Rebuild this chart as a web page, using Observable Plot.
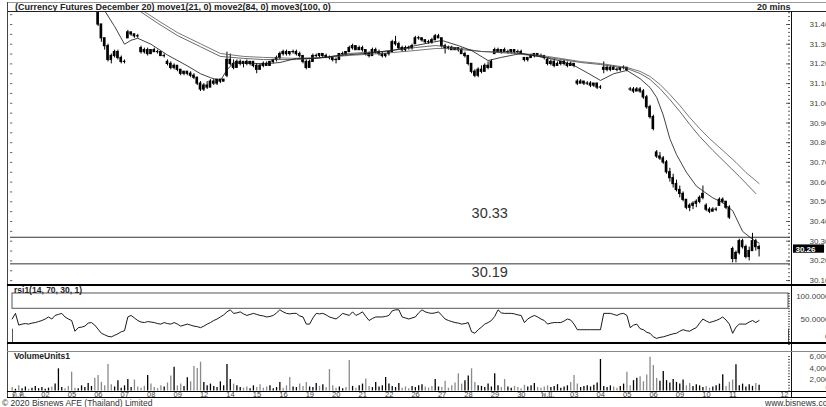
<!DOCTYPE html>
<html><head><meta charset="utf-8">
<script src="https://cdn.jsdelivr.net/npm/d3@7"></script>
<script src="https://cdn.jsdelivr.net/npm/@observablehq/plot@0.6"></script>
<style>
body{margin:0;background:#fff;}
#chart{position:relative;width:826px;height:407px;overflow:hidden;font-family:'Liberation Sans',Arial,'DejaVu Sans',sans-serif;background:#fff;}
.ln{position:absolute;background:#000;}
.t{position:absolute;white-space:nowrap;line-height:1;color:#222;}
</style></head><body><div id="chart"></div>
<script>
// ---------- DATA (20-minute bars, 8 bars per trading day) ----------
const barsPerDay = 8;
const xMax = 236;
const dayLabels = ["ต.ค.","02","05","06","07","08","09","12","14","15","16","19","20","21","22","26","27","28","29","30","พ.ย.","03","04","05","06","09","10","11"];
const lastDayLabel = "12";
const firstPriceBar = 26;
const opens = [
31.46,31.40,31.33,31.29,31.22,31.24,31.26,31.23,31.21,31.33,
31.36,31.35,31.34,31.28,31.26,31.27,31.25,31.27,31.26,31.26,
31.24,31.21,31.20,31.18,31.19,31.17,31.15,31.16,31.15,31.14,
31.13,31.10,31.07,31.09,31.08,31.11,31.10,31.12,31.11,31.14,
31.22,31.20,31.18,31.21,31.20,31.21,31.20,31.21,31.19,31.17,
31.19,31.20,31.19,31.21,31.22,31.23,31.25,31.26,31.25,31.26,
31.26,31.25,31.24,31.21,31.18,31.21,31.24,31.24,31.25,31.24,
31.23,31.23,31.22,31.22,31.25,31.25,31.26,31.28,31.29,31.27,
31.28,31.27,31.25,31.24,31.27,31.26,31.25,31.24,31.25,31.26,
31.31,31.30,31.28,31.27,31.28,31.28,31.30,31.33,31.33,31.32,
31.31,31.31,31.32,31.34,31.33,31.29,31.28,31.28,31.27,31.28,
31.27,31.25,31.24,31.20,31.16,31.14,31.17,31.16,31.19,31.18,
31.25,31.27,31.26,31.27,31.26,31.26,31.27,31.26,31.26,31.23,
31.22,31.23,31.24,31.25,31.24,31.24,31.22,31.20,31.21,31.19,
31.20,31.21,31.20,31.19,31.20,31.11,31.10,31.11,31.10,31.10,
31.09,31.10,31.08,31.17,31.18,31.17,31.18,31.17,31.17,31.18,
31.18,31.07,31.07,31.06,31.07,31.06,31.03,30.98,30.93,30.75,
30.73,30.72,30.70,30.65,30.62,30.59,30.56,30.54,30.51,30.47,
30.48,30.49,30.50,30.52,30.48,30.46,30.45,30.46,30.48,30.51,
30.50,30.47,30.26,30.21,30.24,30.30,30.27,30.22,30.25,30.30,
30.27];
const highs = [
31.47,31.40,31.33,31.30,31.25,31.27,31.27,31.24,31.22,31.37,
31.36,31.35,31.35,31.29,31.28,31.28,31.27,31.28,31.27,31.26,
31.25,31.22,31.21,31.20,31.19,31.17,31.16,31.16,31.16,31.15,
31.13,31.11,31.10,31.11,31.12,31.12,31.12,31.12,31.12,31.26,
31.25,31.22,31.22,31.22,31.21,31.22,31.21,31.21,31.20,31.20,
31.21,31.21,31.21,31.22,31.24,31.26,31.27,31.27,31.26,31.27,
31.27,31.26,31.24,31.22,31.22,31.25,31.25,31.25,31.25,31.25,
31.24,31.23,31.23,31.25,31.26,31.26,31.29,31.30,31.29,31.29,
31.29,31.27,31.26,31.28,31.28,31.27,31.26,31.25,31.26,31.32,
31.34,31.31,31.29,31.29,31.29,31.30,31.34,31.34,31.33,31.32,
31.32,31.33,31.35,31.35,31.33,31.30,31.29,31.29,31.28,31.28,
31.28,31.26,31.24,31.20,31.17,31.18,31.19,31.20,31.21,31.22,
31.28,31.28,31.27,31.28,31.27,31.27,31.27,31.27,31.27,31.23,
31.23,31.25,31.25,31.25,31.25,31.24,31.23,31.22,31.22,31.21,
31.21,31.22,31.21,31.21,31.20,31.12,31.12,31.11,31.11,31.11,
31.10,31.10,31.09,31.21,31.19,31.19,31.19,31.18,31.18,31.19,
31.18,31.08,31.08,31.08,31.08,31.07,31.04,30.99,30.94,30.76,
30.75,30.73,30.71,30.67,30.64,30.61,30.58,30.55,30.51,30.49,
30.50,30.51,30.53,30.58,30.49,30.47,30.47,30.47,30.52,30.52,
30.50,30.48,30.27,30.25,30.31,30.31,30.28,30.27,30.34,30.31,
30.28];
const lows = [
31.39,31.31,31.27,31.21,31.20,31.23,31.22,31.20,31.20,31.33,
31.34,31.33,31.33,31.25,31.25,31.24,31.25,31.26,31.25,31.24,
31.23,31.19,31.17,31.17,31.16,31.14,31.14,31.14,31.13,31.12,
31.09,31.06,31.06,31.07,31.08,31.09,31.09,31.10,31.11,31.13,
31.19,31.17,31.18,31.19,31.18,31.19,31.19,31.18,31.15,31.17,
31.18,31.19,31.19,31.20,31.21,31.22,31.24,31.24,31.24,31.25,
31.24,31.23,31.20,31.17,31.18,31.21,31.23,31.23,31.23,31.23,
31.22,31.21,31.20,31.22,31.24,31.24,31.26,31.27,31.27,31.27,
31.26,31.24,31.23,31.24,31.25,31.24,31.23,31.23,31.24,31.26,
31.29,31.27,31.26,31.26,31.27,31.27,31.30,31.32,31.31,31.30,
31.30,31.30,31.32,31.33,31.28,31.25,31.27,31.27,31.27,31.26,
31.25,31.23,31.19,31.15,31.13,31.13,31.15,31.16,31.17,31.18,
31.25,31.26,31.25,31.26,31.25,31.25,31.25,31.25,31.25,31.21,
31.21,31.23,31.23,31.24,31.23,31.22,31.19,31.19,31.18,31.19,
31.19,31.19,31.18,31.19,31.18,31.09,31.10,31.09,31.09,31.08,
31.08,31.07,31.07,31.15,31.16,31.16,31.17,31.16,31.16,31.17,
31.16,31.06,31.05,31.06,31.05,31.02,30.97,30.92,30.86,30.72,
30.71,30.69,30.64,30.60,30.57,30.55,30.52,30.50,30.46,30.45,
30.46,30.47,30.49,30.51,30.45,30.44,30.45,30.45,30.48,30.49,
30.46,30.41,30.19,30.19,30.23,30.26,30.21,30.20,30.25,30.25,
30.22];
const closes = [
31.40,31.33,31.29,31.22,31.24,31.26,31.23,31.21,31.21,31.36,
31.35,31.34,31.34,31.26,31.27,31.25,31.27,31.26,31.26,31.24,
31.24,31.20,31.18,31.19,31.17,31.15,31.16,31.15,31.14,31.13,
31.10,31.07,31.09,31.08,31.11,31.10,31.12,31.11,31.12,31.22,
31.20,31.18,31.21,31.20,31.21,31.20,31.21,31.19,31.17,31.19,
31.20,31.19,31.21,31.22,31.23,31.25,31.26,31.25,31.26,31.26,
31.25,31.24,31.21,31.18,31.21,31.24,31.24,31.25,31.24,31.23,
31.23,31.22,31.22,31.25,31.25,31.26,31.28,31.29,31.27,31.28,
31.27,31.25,31.24,31.27,31.26,31.25,31.24,31.25,31.26,31.31,
31.30,31.28,31.27,31.28,31.28,31.29,31.33,31.33,31.32,31.31,
31.31,31.32,31.34,31.33,31.29,31.28,31.28,31.27,31.28,31.27,
31.25,31.24,31.20,31.16,31.14,31.17,31.16,31.19,31.18,31.21,
31.27,31.26,31.27,31.26,31.26,31.27,31.26,31.26,31.25,31.22,
31.23,31.24,31.25,31.24,31.24,31.23,31.20,31.21,31.19,31.20,
31.21,31.20,31.19,31.20,31.19,31.10,31.11,31.10,31.10,31.09,
31.10,31.08,31.08,31.18,31.17,31.18,31.17,31.17,31.18,31.18,
31.17,31.07,31.06,31.07,31.06,31.03,30.98,30.93,30.87,30.73,
30.72,30.70,30.65,30.62,30.59,30.56,30.54,30.51,30.47,30.48,
30.49,30.50,30.52,30.54,30.46,30.45,30.46,30.46,30.51,30.50,
30.47,30.42,30.21,30.24,30.30,30.27,30.22,30.25,30.30,30.27,
30.26];
// moving averages read at sample bars
const ma1Bars = [26,28,31,34,36,38,42,47,53,57,60,63,65,67,71,76,81,86,92,99,107,115,122,130,135,139,144,148,154,161,166,170,174,178,182,186,190,193,195,197,199,201,204,207,209,212,215,218,221,224,226];
const ma1 = [31.53,31.47,31.39,31.30,31.32,31.33,31.30,31.245,31.19,31.15,31.13,31.115,31.17,31.205,31.205,31.20,31.207,31.228,31.228,31.243,31.253,31.268,31.293,31.319,31.293,31.268,31.217,31.233,31.253,31.233,31.215,31.192,31.155,31.116,31.15,31.167,31.125,31.08,31.03,30.94,30.82,30.74,30.65,30.58,30.555,30.52,30.495,30.455,30.35,30.31,30.29];
const ma2Bars = [33,38,44,50,57,63,70,76,86,95,102,112,122,128,132,142,152,162,172,178,186,190,193,196,199,202,205,208,212,216,220,225];
const ma2 = [31.52,31.475,31.407,31.344,31.287,31.238,31.228,31.222,31.222,31.233,31.253,31.263,31.283,31.293,31.288,31.263,31.253,31.233,31.207,31.197,31.177,31.151,31.121,31.075,31.019,30.959,30.893,30.832,30.761,30.695,30.629,30.542];
const ma3Bars = [35,39,45,50,57,63,70,76,86,95,102,112,122,128,132,142,152,162,172,178,186,190,193,196,199,202,205,208,211,215,219,222,226];
const ma3 = [31.52,31.476,31.411,31.359,31.302,31.253,31.238,31.233,31.228,31.233,31.243,31.253,31.268,31.278,31.278,31.263,31.258,31.238,31.212,31.202,31.182,31.162,31.136,31.096,31.045,30.989,30.928,30.872,30.821,30.761,30.700,30.649,30.593];
const levels = [30.32, 30.185];
const levelLabels = ["30.33", "30.19"];
const lastPrice = 30.26;
const priceTicks = [31.40,31.30,31.20,31.10,31.00,30.90,30.80,30.70,30.60,30.50,30.40,30.30,30.20,30.10];
// RSI(14) per bar from the first bar
const rsi = [
50,61,38,40,41,40,42,43,45,47,
50,54,50,57,59,61,54,50,47,26,
33,34,36,42,43,38,30,22,19,16,
15,18,21,25,27,54,57,52,47,44,
43,45,44,43,41,40,43,41,40,43,
40,36,38,40,38,36,35,33,36,40,
43,47,50,54,58,64,68,61,62,64,
60,57,59,61,59,57,56,54,55,57,
62,68,64,61,60,61,61,56,54,40,
40,52,61,60,61,58,54,52,50,55,
61,59,57,64,57,60,64,55,47,51,
54,54,54,55,57,66,68,68,54,52,
50,52,54,62,68,64,62,61,62,64,
57,50,47,45,43,42,40,41,43,25,
22,29,34,40,43,47,55,68,62,61,
61,61,60,58,57,43,50,54,57,54,
50,47,40,42,43,43,43,46,50,48,
40,29,29,29,29,29,29,29,29,61,
61,61,59,57,60,61,57,33,38,40,
31,29,24,22,15,12,14,15,17,19,
21,22,26,29,27,26,30,33,42,50,
46,43,45,47,50,54,48,40,22,34,
40,40,40,44,47,43,47];
const rsiUpper = 70, rsiLower = 30;
const rsiTicks = [100, 50, 0];
// volume per bar
const volume = [
600,300,900,400,700,300,500,800,400,600,
300,500,700,1200,3860,600,400,800,3270,500,
400,900,600,1300,800,2200,2700,1500,900,4600,
1100,700,1800,500,900,2000,600,1900,700,500,
800,2700,1200,600,400,900,700,1400,2600,4140,
900,1200,800,2300,1600,4260,3900,5000,1500,900,
1200,800,600,1600,900,4600,2000,1200,900,600,
500,700,400,900,600,1100,500,700,900,400,
600,1500,500,900,2350,700,600,1200,800,1500,
700,600,1300,800,1100,600,3740,900,500,700,
400,600,5300,800,500,900,1200,2100,800,600,
1500,700,900,2350,1200,800,600,1300,500,700,
400,800,600,900,1100,700,500,800,2000,700,
600,1700,500,900,1400,3000,1200,1800,2600,3860,
1500,900,800,600,1200,700,3000,900,600,2000,
700,500,800,600,400,1000,700,900,1300,600,
500,700,900,600,800,1100,500,700,900,1500,
2700,1200,600,800,900,700,1000,1400,5480,800,
600,900,700,500,800,1200,3270,900,1800,2200,
2500,1600,2800,5880,4430,2200,1700,3400,1800,1400,
2000,1500,1200,1900,900,1300,800,1100,900,600,
800,500,700,900,1200,2820,800,1500,1900,4550,
900,1200,700,1100,800,1300,1000];
const volTicks = [6000, 4000, 2000];
const volZero = 0;

// ---------- RENDER ----------
const FONT = "'Liberation Sans', Arial, 'DejaVu Sans', sans-serif";
const W = 826;
const chart = document.getElementById("chart");
const X = {domain: [0, xMax], range: [10, 790], axis: null};
const common = {width: W, marginLeft: 10, marginRight: 36, style: {fontFamily: FONT, background: "transparent", overflow: "visible"}};
function place(svg, top) {
  svg.style.position = "absolute"; svg.style.left = "0px"; svg.style.top = top + "px";
  svg.style.maxWidth = "none"; chart.appendChild(svg);
}
const candles = opens.map((o, k) => ({bar: firstPriceBar + k, o, h: highs[k], l: lows[k], c: closes[k]}));
const series = (bars, vals) => bars.map((b, k) => ({b, v: vals[k]}));

const pricePlot = Plot.plot({
  ...common, height: 285, marginTop: 12, marginBottom: 2,
  x: X,
  y: {domain: [30.30, 31.20], range: [240.7, 63.4], axis: null},
  marks: [
    Plot.ruleY(levels, {x1: 0, x2: xMax, stroke: "#333", strokeWidth: 1}),
    Plot.ruleX(candles, {x: d => d.bar + 0.5, y1: "l", y2: "h", stroke: "#000", strokeWidth: 1, clip: true}),
    Plot.rect(candles, {x1: d => d.bar + 0.1, x2: d => d.bar + 0.9, y1: d => Math.min(d.o, d.c), y2: d => Math.max(d.o, d.c), fill: "#000", insetTop: -0.6, insetBottom: -0.6, clip: true}),
    Plot.line(series(ma3Bars, ma3), {x: d => d.b + 0.5, y: "v", stroke: "#555", strokeWidth: 0.8, clip: true}),
    Plot.line(series(ma2Bars, ma2), {x: d => d.b + 0.5, y: "v", stroke: "#444", strokeWidth: 0.8, clip: true}),
    Plot.line(series(ma1Bars, ma1), {x: d => d.b + 0.5, y: "v", stroke: "#111", strokeWidth: 0.8, clip: true}),
    Plot.text([levels[0]], {x: () => 145, y: d => d, text: () => levelLabels[0], dy: -24, fontSize: 14.5, fill: "#333"}),
    Plot.text([levels[1]], {x: () => 145, y: d => d, text: () => levelLabels[1], dy: 9, fontSize: 14.5, fill: "#333"}),
    Plot.ruleY(d3.ticks(30.09, 31.46, 70), {x1: xMax - 0.6, x2: xMax, stroke: "#333", strokeWidth: 0.8}),
    Plot.ruleY(priceTicks, {x1: xMax - 1.2, x2: xMax, stroke: "#333", strokeWidth: 0.8}),
    Plot.ruleY(d3.ticks(30.1, 31.45, 28), {x1: 0, x2: 0.7, stroke: "#444", strokeWidth: 0.8}),
    Plot.text(priceTicks, {y: d => d, text: d => d.toFixed(2), frameAnchor: "right", dx: 39, textAnchor: "end", fontSize: 8, fill: "#444"}),
    Plot.rect([lastPrice], {x1: () => xMax + 0.9, x2: () => xMax + 10.3, y1: d => d - 0.021, y2: d => d + 0.021, fill: "#000"}),
    Plot.text([lastPrice], {x: () => xMax + 0.9, y: d => d, text: d => d.toFixed(2), textAnchor: "start", dx: 2, fontSize: 8, fontWeight: "bold", fill: "#fff"})
  ]
});
place(pricePlot, 0);

const rsiPlot = Plot.plot({
  ...common, height: 58, marginTop: 8, marginBottom: 1,
  x: X,
  y: {domain: [0, 100], range: [59, 8], axis: null},
  marks: [
    Plot.rect([rsiUpper], {x1: () => 0, x2: () => xMax, y1: d => d, y2: () => 100, fill: "none", stroke: "#555", strokeWidth: 1, insetLeft: 2, insetRight: 2}),
    Plot.ruleX([0], {y1: 0, y2: rsiLower, stroke: "#555", dx: 2}),
    Plot.ruleX([xMax], {y1: 0, y2: rsiLower, stroke: "#555", dx: -2}),
    Plot.line(rsi, {x: (d, i) => i + 0.5, y: d => d, stroke: "#000", strokeWidth: 0.9, clip: true}),
    Plot.ruleY(d3.ticks(0, 100, 20), {x1: xMax - 0.6, x2: xMax, stroke: "#333", strokeWidth: 0.8}),
    Plot.text([rsiTicks[0]], {y: d => d, text: d => d.toFixed(4), frameAnchor: "right", dx: 39, textAnchor: "end", dy: 3, fontSize: 8, fill: "#444"}),
    Plot.text([rsiTicks[1]], {y: d => d, text: d => d.toFixed(4), frameAnchor: "right", dx: 39, textAnchor: "end", fontSize: 8, fill: "#444"}),
    Plot.text([rsiTicks[2]], {y: d => d, text: d => String(d), frameAnchor: "right", dx: 39, textAnchor: "end", dy: -8, fontSize: 8, fill: "#444"})
  ]
});
place(rsiPlot, 285);

const volPlot = Plot.plot({
  ...common, height: 64, marginTop: 8, marginBottom: 16.5,
  x: X,
  y: {domain: [0, 6000], range: [47.5, 13], axis: null},
  marks: [
    Plot.ruleX(volume, {x: (d, i) => i + 0.5, y1: 0, y2: d => d, stroke: (d, i) => (i > 0 && rsi[i] >= rsi[i - 1]) ? "#000" : "#8a8a8a", strokeWidth: 1.3}),
    Plot.ruleY(d3.ticks(0, 6000, 12), {x1: xMax - 0.6, x2: xMax, stroke: "#333", strokeWidth: 0.8}),
    Plot.text(volTicks, {y: d => d, text: d => d3.format(",")(d), frameAnchor: "right", dx: 39, textAnchor: "end", fontSize: 8, fill: "#444"}),
    Plot.text([volZero], {y: d => d, text: d => String(d), frameAnchor: "right", dx: 39, dy: -3, textAnchor: "end", fontSize: 7, fill: "#444"}),
    Plot.text(dayLabels, {x: (d, i) => i * barsPerDay, y: () => 0, text: d => d, dx: 8.5, dy: 3.6, fontSize: 7.5, fill: "#444"}),
    Plot.text([lastDayLabel], {x: () => xMax, y: () => 0, text: d => d, dx: -2, dy: 3.6, textAnchor: "end", fontSize: 7.5, fill: "#444"})
  ]
});
place(volPlot, 343);

// ---------- frame lines & titles ----------
function line(l, t, w, h, c) { const d = document.createElement("div"); d.className = "ln"; Object.assign(d.style, {left: l + "px", top: t + "px", width: w + "px", height: h + "px", background: c}); chart.appendChild(d); }
function text(s, l, t, size, weight, color) { const d = document.createElement("div"); d.className = "t"; d.textContent = s; Object.assign(d.style, {left: l + "px", top: t + "px", fontSize: size + "px", fontWeight: weight, color}); chart.appendChild(d); }
line(7, 1.5, 819, 1, "#999");
line(7, 11, 819, 1, "#222");
line(7, 1.5, 1, 396, "#444");
line(791, 11, 1, 386.5, "#111");
line(7, 284, 819, 2, "#000");
line(7, 341.5, 819, 2, "#000");
line(7, 350.5, 819, 1, "#888");
line(7, 390.5, 819, 1, "#000");
line(7, 397, 819, 1, "#000");
text("(Currency Futures December 20) move1(21, 0) move2(84, 0) move3(100, 0)", 15, 2.6, 9, "bold", "#222");
text("20 mins", 757, 2.6, 9, "bold", "#222");
text("rsi1(14, 70, 30, 1)", 14, 286.2, 8.5, "bold", "#222");
text("VolumeUnits1", 14, 352, 8.5, "bold", "#222");
text("© 2020 Bisnews AFE (Thailand) Limited", 2, 399.3, 8.5, "normal", "#333");
text("www.bisnews.com", 765, 399.3, 8.5, "normal", "#333");
</script></body></html>
